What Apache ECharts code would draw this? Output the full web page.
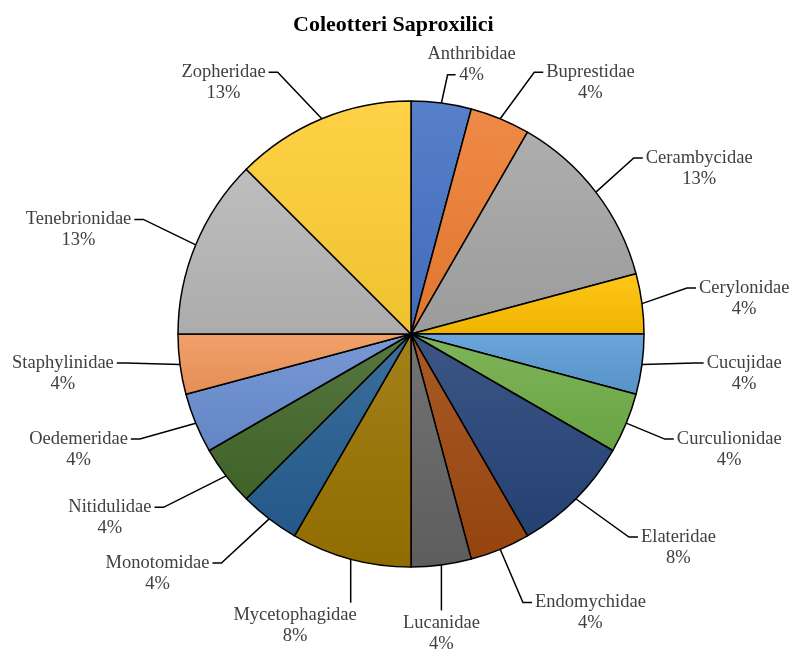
<!DOCTYPE html>
<html>
<head>
<meta charset="utf-8">
<script src="https://cdn.jsdelivr.net/npm/echarts@6/dist/echarts.min.js"></script>
<style>
  html, body { margin: 0; padding: 0; background: #fff; }
  #chart { width: 805px; height: 656px; }
</style>
</head>
<body>
<div id="chart"></div>
<script>
var families = ['Anthribidae', 'Buprestidae', 'Cerambycidae', 'Cerylonidae', 'Cucujidae',
    'Curculionidae', 'Elateridae', 'Endomychidae', 'Lucanidae', 'Mycetophagidae',
    'Monotomidae', 'Nitidulidae', 'Oedemeridae', 'Staphylinidae', 'Tenebrionidae', 'Zopheridae'];
var counts = [1, 1, 3, 1, 1, 1, 2, 1, 1, 2, 1, 1, 1, 1, 3, 3];
var colors = ['#4472C4', '#ED7D31', '#A5A5A5', '#FFC000', '#5B9BD5', '#70AD47', '#264478', '#9E480E',
    '#636363', '#997300', '#255E91', '#43682B', '#698ED0', '#F1975A', '#B7B7B7', '#FFCD33'];

var total = 0;
for (var i = 0; i < counts.length; i++) total += counts[i];

var cx = 411, cy = 334, lineH = 21;

// mix a hex colour towards white (k>0) or black (k<0)
function shade(c, k) {
    var n = parseInt(c.slice(1), 16);
    var rgb = [(n >> 16) & 255, (n >> 8) & 255, n & 255];
    for (var i = 0; i < 3; i++) {
        rgb[i] = k > 0 ? rgb[i] + (255 - rgb[i]) * k : rgb[i] * (1 + k);
        rgb[i] = Math.round(rgb[i]);
    }
    return 'rgb(' + rgb.join(',') + ')';
}
function grad(c) {
    return new echarts.graphic.LinearGradient(0, 0, 0, 1, [
        {offset: 0, color: shade(c, 0.1)},
        {offset: 1, color: shade(c, -0.06)}
    ]);
}

// excel-ish "best fit": labels on a squarish ring round the pie, leader from the slice edge
function placeLabel(p) {
    var e = p.labelLinePoints[0];
    var ang = Math.atan2(e[0] - cx, cy - e[1]);
    var s = Math.sin(ang), c = Math.cos(ang);
    var w = p.labelRect.width, h = p.labelRect.height;
    var sg = s > 0 ? 1 : -1;
    var x = cx + sg * (s > 0 ? 335 : 350) * Math.pow(Math.abs(s), 0.65);
    var y = cy - c * (c > 0 ? 272 : 302);
    var pts;
    if (c < -0.95) {
        // bottom labels hang under the slice, leader straight down to the top of the text
        if (Math.abs(s) < 0.2) x = e[0];
        if (e[0] > x + w / 2 - 6) x = e[0] + 6 - w / 2;
        if (e[0] < x - w / 2 + 6) x = e[0] - 6 + w / 2;
        var yt = y - h / 2 - 2;
        pts = [e, [e[0], yt], [e[0], yt]];
    } else if (c > 0.95) {
        // top label: sits just beside the slice, leader comes in beside the percent line
        x = e[0] + sg * (w / 2 - 14);
        var tx = x - sg * 16, ty = y + lineH / 2;
        pts = [e, [tx - sg * 8, ty], [tx, ty]];
    } else {
        var ex = x - sg * (w / 2 + 3), ey = y - lineH / 2;
        pts = [e, [ex - sg * 9, ey], [ex, ey]];
    }
    return {x: x, y: y, align: 'center', verticalAlign: 'middle', labelLinePoints: pts, hideOverlap: false};
}

var myChart = echarts.init(document.getElementById('chart'));
var data = [];
for (var j = 0; j < families.length; j++) {
    data.push({name: families[j], value: counts[j], itemStyle: {color: grad(colors[j])}});
}

var txt = {fontFamily: 'Liberation Serif', fontSize: 18.5, color: '#404040', lineHeight: lineH, align: 'center'};

var option = {
    backgroundColor: '#fff',
    title: {
        text: 'Coleotteri Saproxilici',
        left: 288,
        top: 9,
        textStyle: {fontFamily: 'Liberation Serif', fontWeight: 'bold', fontSize: 22, color: '#000'}
    },
    series: [
        {
            type: 'pie',
            center: [cx, cy],
            radius: 233,
            startAngle: 90,
            clockwise: true,
            avoidLabelOverlap: true,
            data: data,
            itemStyle: {borderColor: '#000', borderWidth: 1.5},
            label: {
                show: true,
                position: 'outside',
                overflow: 'none',
                color: '#404040',
                fontFamily: 'Liberation Serif',
                fontSize: 18.5,
                lineHeight: lineH,
                formatter: function (p) {
                    return '{n|' + p.name + '}\n{p|' + Math.round(p.value / total * 100) + '%}';
                },
                rich: {n: txt, p: txt}
            },
            labelLine: {
                show: true,
                length: 30,
                length2: 10,
                lineStyle: {color: '#000', width: 1.5}
            },
            labelLayout: placeLabel,
            emphasis: {disabled: true}
        }
    ]
};
myChart.setOption(option);
</script>
</body>
</html>
